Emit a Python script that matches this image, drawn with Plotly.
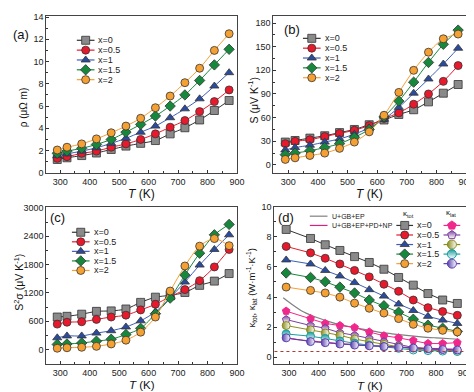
import plotly.graph_objects as go

# ---------------- data ----------------
T_ab = [290, 323, 373, 423, 473, 523, 573, 623, 673, 723, 773, 823, 873]
T_d = [290, 373, 423, 473, 523, 573, 623, 673, 723, 773, 823, 873]
series_labels = ["x=0", "x=0.5", "x=1", "x=1.5", "x=2"]

rho_x0 = [1.2, 1.35, 1.55, 1.78, 2.1, 2.4, 2.65, 2.9, 3.5, 4.05, 4.75, 5.6, 6.5]
rho_x05 = [1.3, 1.45, 1.75, 1.95, 2.3, 2.6, 3.0, 3.5, 4.1, 4.7, 5.5, 6.4, 7.45]
rho_x1 = [1.55, 1.7, 1.95, 2.25, 2.65, 3.1, 3.65, 4.2, 4.95, 5.75, 6.65, 7.8, 9.0]
rho_x15 = [1.75, 1.95, 2.2, 2.55, 3.0, 3.65, 4.35, 5.1, 6.0, 7.0, 8.3, 9.7, 11.1]
rho_x2 = [2.05, 2.3, 2.6, 3.05, 3.6, 4.2, 4.9, 5.85, 6.9, 8.1, 9.4, 11.0, 12.5]

S_x0 = [29, 31, 34, 37, 41, 45, 51, 57, 64, 70, 80, 91, 102]
S_x05 = [27, 30, 32, 36, 40, 44, 50, 59, 66, 77, 90, 106, 126]
S_x1 = [19, 22, 25, 29, 33, 39, 47, 58, 73, 91, 109, 128, 148]
S_x15 = [13, 15, 18, 22, 27, 35, 45, 61, 81, 105, 130, 153, 171]
S_x2 = [7, 9, 12, 15, 21, 29, 42, 63, 92, 120, 143, 160, 166]

PF_x0 = [690, 705, 750, 810, 820, 860, 1000, 1110, 1150, 1210, 1360, 1450, 1610]
PF_x05 = [540, 580, 590, 640, 690, 730, 840, 960, 1120, 1270, 1460, 1750, 2120]
PF_x1 = [250, 290, 290, 350, 400, 480, 610, 800, 1100, 1430, 1790, 2120, 2430]
PF_x15 = [110, 120, 140, 180, 220, 320, 450, 760, 1090, 1580, 2040, 2430, 2650]
PF_x2 = [30, 40, 50, 70, 120, 200, 370, 690, 1240, 1770, 2190, 2350, 2200]

ktot_x0 = [8.5, 7.9, 7.48, 7.1, 6.69, 6.3, 5.85, 5.3, 4.79, 4.23, 3.8, 3.57]
ktot_x05 = [7.37, 6.94, 6.58, 6.2, 5.77, 5.34, 4.85, 4.38, 3.8, 3.29, 3.03, 2.78]
ktot_x1 = [6.47, 6.2, 5.77, 5.4, 4.96, 4.49, 4.06, 3.53, 3.1, 2.71, 2.46, 2.24]
ktot_x15 = [5.6, 5.3, 5.02, 4.66, 4.27, 3.8, 3.42, 2.99, 2.52, 2.13, 1.92, 1.71]
ktot_x2 = [4.66, 4.44, 4.27, 3.99, 3.59, 3.25, 2.93, 2.56, 2.18, 1.92, 1.78, 1.67]

klat_x0 = [3.06, 2.56, 2.24, 2.1, 1.97, 1.67, 1.42, 1.28, 1.11, 0.9, 0.9, 0.96]
klat_x05 = [2.5, 2.1, 1.92, 1.62, 1.45, 1.24, 1.03, 0.8, 0.64, 0.53, 0.49, 0.43]
klat_x1 = [2.1, 1.81, 1.6, 1.45, 1.2, 1.0, 0.85, 0.69, 0.53, 0.47, 0.43, 0.38]
klat_x15 = [1.54, 1.39, 1.24, 1.07, 0.92, 0.79, 0.69, 0.58, 0.47, 0.43, 0.4, 0.38]
klat_x2 = [1.28, 1.03, 0.96, 0.87, 0.8, 0.75, 0.7, 0.65, 0.6, 0.55, 0.5, 0.47]

T_model = [280, 300, 350, 400, 450, 500, 550, 600, 650, 700, 750, 800, 850, 880]
k_model_a = [3.95, 3.65, 3.0, 2.6, 2.28, 2.05, 1.86, 1.68, 1.55, 1.44, 1.35, 1.28, 1.22, 1.18]
k_model_b = [1.32, 1.25, 1.12, 1.02, 0.93, 0.86, 0.8, 0.74, 0.69, 0.64, 0.6, 0.56, 0.53, 0.51]
model_labels = ["U+GB+EP", "U+GB+EP+PD+NP"]
k_min = 0.37

# ---------------- styles ----------------
FONT = "Liberation Sans, Arial, sans-serif"
fills = ["#8a8a8a", "#e8192c", "#2b4c9e", "#16883c", "#f5a033"]
lines = ["#333333", "#e8192c", "#3d5db8", "#16883c", "#f5a033"]
symbols = ["square", "circle", "triangle-up", "diamond", "circle"]
lat_colors = ["#f0288c", "#7b3f9e", "#8c8c1e", "#1a9e9e", "#5a3fae"]
lat_symbols = ["pentagon", "pentagon", "circle", "circle", "circle"]
lat_grad = [None, "vertical", "horizontal", "vertical", "horizontal"]
model_colors = ["#808080", "#d6237f"]

fig = go.Figure()

def add_series(xs, ys, xa, ya, i, spline=True, size=8):
    fig.add_trace(go.Scatter(
        x=xs, y=ys, xaxis=xa, yaxis=ya, mode="lines+markers", showlegend=False,
        line=dict(color=lines[i], width=1, shape="spline" if spline else "linear", smoothing=0.8),
        marker=dict(symbol=symbols[i], size=size, color=fills[i],
                    line=dict(color="#333333", width=0.8))))

for i, ys in enumerate([rho_x0, rho_x05, rho_x1, rho_x15, rho_x2]):
    add_series(T_ab, ys, "x", "y", i)
for i, ys in enumerate([S_x0, S_x05, S_x1, S_x15, S_x2]):
    add_series(T_ab, ys, "x2", "y2", i)
for i, ys in enumerate([PF_x0, PF_x05, PF_x1, PF_x15, PF_x2]):
    add_series(T_ab, ys, "x3", "y3", i)

# panel d model curves
for j, ys in enumerate([k_model_a, k_model_b]):
    fig.add_trace(go.Scatter(x=T_model, y=ys, xaxis="x4", yaxis="y4", mode="lines",
                             showlegend=False,
                             line=dict(color=model_colors[j], width=1.2, shape="spline")))
for i, ys in enumerate([ktot_x0, ktot_x05, ktot_x1, ktot_x15, ktot_x2]):
    add_series(T_d, ys, "x4", "y4", i, spline=False, size=8)

def lat_marker(i, size=8):
    m = dict(symbol=lat_symbols[i], size=size, color=lat_colors[i],
             line=dict(color=lat_colors[i], width=1))
    if lat_grad[i]:
        m["gradient"] = dict(type=lat_grad[i], color="white")
    return m

for i, ys in enumerate([klat_x0, klat_x05, klat_x1, klat_x15, klat_x2]):
    fig.add_trace(go.Scatter(x=T_d, y=ys, xaxis="x4", yaxis="y4", mode="lines+markers",
                             showlegend=False,
                             line=dict(color=lat_colors[i], width=1),
                             marker=lat_marker(i)))

fig.add_shape(type="line", xref="x4 domain", yref="y4", x0=0, x1=1, y0=k_min, y1=k_min,
              line=dict(color="#b03a2e", width=1.2, dash="dot"))

# ---------------- manual legends (overlay axis in pixel units) ----------------
W, H = 474, 392
legend_pos = {  # (line x0, line x1, first row y, row step)
    "a": (70, 88, 28, 10.1),
    "b": (300, 318, 26, 10.1),
    "c": (65, 83, 225, 9.8),
    "d": (395, 412, 218, 9.8),
}

def legend_rows(key, marker_fn, line_colors, texts):
    x0, x1, y0, dy = legend_pos[key]
    for i in range(5):
        yy = y0 + i * dy
        fig.add_trace(go.Scatter(x=[x0, x1], y=[yy, yy], xaxis="x5", yaxis="y5", mode="lines",
                                 line=dict(color=line_colors[i], width=1.2), showlegend=False,
                                 hoverinfo="skip"))
        fig.add_trace(go.Scatter(x=[(x0 + x1) / 2], y=[yy], xaxis="x5", yaxis="y5",
                                 mode="markers", marker=marker_fn(i), showlegend=False,
                                 hoverinfo="skip"))
        if texts:
            fig.add_annotation(x=x1 + 2, y=yy, xref="x5", yref="y5", text=texts[i],
                               showarrow=False, xanchor="left", yanchor="middle",
                               font=dict(family=FONT, size=9, color="#222"))

def tot_marker(i, size=8):
    return dict(symbol=symbols[i], size=size, color=fills[i], line=dict(color="#333", width=0.8))

for k in ["a", "b", "c", "d"]:
    legend_rows(k, tot_marker, lines, series_labels)

# kappa_lat legend column
lx0, lx1 = 443, 460
for i in range(5):
    yy = legend_pos["d"][2] + i * legend_pos["d"][3]
    fig.add_trace(go.Scatter(x=[lx0, lx1], y=[yy, yy], xaxis="x5", yaxis="y5", mode="lines",
                             line=dict(color=lat_colors[i], width=1.2), showlegend=False))
    fig.add_trace(go.Scatter(x=[(lx0 + lx1) / 2], y=[yy], xaxis="x5", yaxis="y5", mode="markers",
                             marker=lat_marker(i, 9), showlegend=False))

# model curve legend
for j in range(2):
    yy = 208.5 + j * 9.5
    fig.add_trace(go.Scatter(x=[307, 325], y=[yy, yy], xaxis="x5", yaxis="y5", mode="lines",
                             line=dict(color=model_colors[j], width=1.2), showlegend=False))
    fig.add_annotation(x=328, y=yy, xref="x5", yref="y5", text=model_labels[j], showarrow=False,
                       xanchor="left", yanchor="middle", font=dict(family=FONT, size=7, color="#222"))

fig.add_annotation(x=407, y=206, xref="x5", yref="y5", text="κ<sub>tot</sub>", showarrow=False,
                   font=dict(family=FONT, size=8, color="#222"))
fig.add_annotation(x=451, y=205, xref="x5", yref="y5", text="κ<sub>lat</sub>", showarrow=False,
                   font=dict(family=FONT, size=8, color="#222"))

# ---------------- text: panel labels and axis titles ----------------
def txt(x, y, s, size=12, angle=0):
    fig.add_annotation(x=x, y=y, xref="x5", yref="y5", text=s, showarrow=False, textangle=angle,
                       xanchor="center", yanchor="middle", borderpad=0,
                       font=dict(family=FONT, size=size, color="#111"))

txt(13, 22, "(a)", 13)
txt(289, 17, "(b)", 13)
txt(50, 210, "(c)", 13)
txt(283, 210, "(d)", 13)

txt(16, 97, "ρ (μΩ m)", 10, -90)
txt(249, 90, "S (μV K<sup>-1</sup>)", 10.5, -90)
txt(11, 276, "S<sup>2</sup>σ (μV K<sup>-1</sup>)", 10.5, -90)
txt(248, 282, "κ<sub>tot</sub>, κ<sub>lat</sub> (W·m<sup>-1</sup>·K<sup>-1</sup>)", 9.5, -90)

txt(136, 186, "<i>T</i> (K)", 12)
txt(368, 186, "<i>T</i> (K)", 12)
txt(136, 382, "<i>T</i> (K)", 11.5)
txt(368, 383, "<i>T</i> (K)", 11.5)

# ---------------- axes ----------------
def xa(domain, rng, anchor):
    return dict(domain=domain, range=rng, anchor=anchor, tick0=300, dtick=100,
                ticks="inside", ticklen=3, tickcolor="#333", showline=True, linecolor="#444",
                linewidth=1, mirror=True, showgrid=False, zeroline=False,
                tickfont=dict(family=FONT, size=9, color="#222"),
                minor=dict(ticks="inside", ticklen=2, dtick=50, tickcolor="#333"))

def ya(domain, rng, anchor, dtick, tick0=0):
    return dict(domain=domain, range=rng, anchor=anchor, tick0=tick0, dtick=dtick,
                ticks="inside", ticklen=3, tickcolor="#333", showline=True, linecolor="#444",
                linewidth=1, mirror=True, showgrid=False, zeroline=False,
                tickfont=dict(family=FONT, size=9, color="#222"),
                minor=dict(ticks="inside", ticklen=2, dtick=dtick / 2, tickcolor="#333"))

xdom_l = [39 / W, 233 / W]
xdom_r_b = [270 / W, 466 / W]
xdom_r_d = [271 / W, 466 / W]
ydom_top = [1 - 164 / H, 1 - 3 / H]
ydom_c = [1 - 360 / H, 1 - 199 / H]
ydom_d = [1 - 360 / H, 1 - 199 / H]

fig.update_layout(
    width=W, height=H, autosize=False, margin=dict(l=0, r=0, t=0, b=0),
    paper_bgcolor="white", plot_bgcolor="rgba(0,0,0,0)", showlegend=False,
    xaxis=xa(xdom_l, [253, 900], "y"),
    yaxis=ya(ydom_top, [0, 14.1], "x", 2),
    xaxis2=xa(xdom_r_b, [250, 900], "y2"),
    yaxis2=ya(ydom_top, [-10, 189], "x2", 30),
    xaxis3=xa(xdom_l, [253, 900], "y3"),
    yaxis3=ya(ydom_c, [-300, 3020], "x3", 600),
    xaxis4=xa(xdom_r_d, [250, 903], "y4"),
    yaxis4=ya(ydom_d, [-0.45, 10], "x4", 2),
    xaxis5=dict(domain=[0, 1], range=[0, W], anchor="y5", visible=False, fixedrange=True),
    yaxis5=dict(domain=[0, 1], range=[H, 0], anchor="x5", visible=False, fixedrange=True),
)

fig.write_html("out.html")
